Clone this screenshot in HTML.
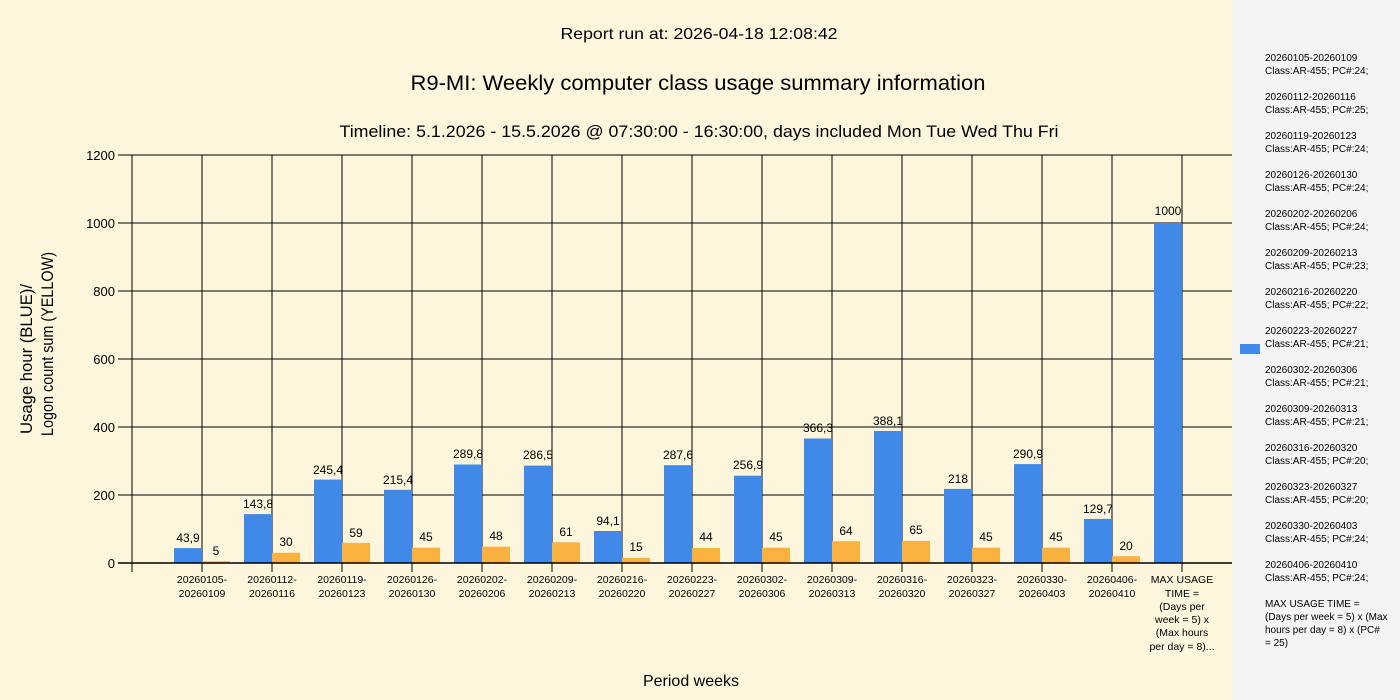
<!DOCTYPE html>
<html><head><meta charset="utf-8"><style>
body{margin:0;background:#fdf6dd;}
svg{display:block;font-family:"Liberation Sans",sans-serif;}
</style></head><body>
<svg width="1400" height="700" xmlns="http://www.w3.org/2000/svg">
<rect width="1400" height="700" fill="#fdf6dd"/>
<rect x="1232" y="0" width="168" height="700" fill="#f4f4f4"/>
<g fill="#000" text-anchor="middle">
<text x="699" y="39" font-size="16" textLength="277" lengthAdjust="spacingAndGlyphs">Report run at: 2026-04-18 12:08:42</text>
<text x="698" y="90" font-size="21" textLength="575" lengthAdjust="spacingAndGlyphs">R9-MI: Weekly computer class usage summary information</text>
<text x="699" y="137" font-size="17" textLength="719" lengthAdjust="spacingAndGlyphs">Timeline:  5.1.2026  - 15.5.2026  @  07:30:00 -  16:30:00, days included Mon Tue Wed Thu Fri</text>
<text x="691" y="686" font-size="16">Period weeks</text>
</g>
<g fill="#000" text-anchor="start">
<text transform="translate(32,434) rotate(-90)" font-size="17" textLength="150" lengthAdjust="spacingAndGlyphs">Usage hour (BLUE)/</text>
<text transform="translate(53,436) rotate(-90)" font-size="17" textLength="184" lengthAdjust="spacingAndGlyphs">Logon count sum (YELLOW)</text>
</g>
<g stroke="#000" stroke-width="1">
<line x1="118" y1="155" x2="1232" y2="155"/><line x1="118" y1="223" x2="1232" y2="223"/>
<line x1="118" y1="291" x2="1232" y2="291"/><line x1="118" y1="359" x2="1232" y2="359"/>
<line x1="118" y1="427" x2="1232" y2="427"/><line x1="118" y1="495" x2="1232" y2="495"/>
<line x1="132" y1="155" x2="132" y2="572"/>
<line x1="202" y1="155" x2="202" y2="572"/><line x1="272" y1="155" x2="272" y2="572"/>
<line x1="342" y1="155" x2="342" y2="572"/><line x1="412" y1="155" x2="412" y2="572"/>
<line x1="482" y1="155" x2="482" y2="572"/><line x1="552" y1="155" x2="552" y2="572"/>
<line x1="622" y1="155" x2="622" y2="572"/><line x1="692" y1="155" x2="692" y2="572"/>
<line x1="762" y1="155" x2="762" y2="572"/><line x1="832" y1="155" x2="832" y2="572"/>
<line x1="902" y1="155" x2="902" y2="572"/><line x1="972" y1="155" x2="972" y2="572"/>
<line x1="1042" y1="155" x2="1042" y2="572"/><line x1="1112" y1="155" x2="1112" y2="572"/>
<line x1="1182" y1="155" x2="1182" y2="572"/>
</g>
<g font-size="13" text-anchor="end" fill="#000">
<text x="115" y="160">1200</text><text x="115" y="228">1000</text><text x="115" y="296">800</text>
<text x="115" y="364">600</text><text x="115" y="432">400</text><text x="115" y="500">200</text><text x="115" y="568">0</text>
</g>
<g fill="#4189e8">
<rect x="174" y="548.1" width="28" height="14.9"/><rect x="244" y="514.1" width="28" height="48.9"/>
<rect x="314" y="479.6" width="28" height="83.4"/><rect x="384" y="489.8" width="28" height="73.2"/>
<rect x="454" y="464.5" width="28" height="98.5"/><rect x="524" y="465.6" width="28" height="97.4"/>
<rect x="594" y="531" width="28" height="32"/><rect x="664" y="465.2" width="28" height="97.8"/>
<rect x="734" y="475.7" width="28" height="87.3"/><rect x="804" y="438.5" width="28" height="124.5"/>
<rect x="874" y="431" width="28" height="132"/><rect x="944" y="488.9" width="28" height="74.1"/>
<rect x="1014" y="464.1" width="28" height="98.9"/><rect x="1084" y="518.9" width="28" height="44.1"/>
<rect x="1154" y="223" width="28" height="340"/>
</g>
<g fill="#f9b13f">
<rect x="202" y="561.3" width="28" height="1.7"/><rect x="272" y="552.8" width="28" height="10.2"/>
<rect x="342" y="542.9" width="28" height="20.1"/><rect x="412" y="547.7" width="28" height="15.3"/>
<rect x="482" y="546.7" width="28" height="16.3"/><rect x="552" y="542.3" width="28" height="20.7"/>
<rect x="622" y="557.9" width="28" height="5.1"/><rect x="692" y="548" width="28" height="15"/>
<rect x="762" y="547.7" width="28" height="15.3"/><rect x="832" y="541.2" width="28" height="21.8"/>
<rect x="902" y="540.9" width="28" height="22.1"/><rect x="972" y="547.7" width="28" height="15.3"/>
<rect x="1042" y="547.7" width="28" height="15.3"/><rect x="1112" y="556.2" width="28" height="6.8"/>
</g>
<line x1="118" y1="563" x2="1232" y2="563" stroke="#000" stroke-width="1.5"/>
<g font-size="12" text-anchor="middle" fill="#000">
<text x="188" y="542">43,9</text><text x="258" y="508">143,8</text><text x="328" y="474">245,4</text>
<text x="398" y="484">215,4</text><text x="468" y="458">289,8</text><text x="538" y="459">286,5</text>
<text x="608" y="525">94,1</text><text x="678" y="459">287,6</text><text x="748" y="469">256,9</text>
<text x="818" y="432">366,3</text><text x="888" y="425">388,1</text><text x="958" y="483">218</text>
<text x="1028" y="458">290,9</text><text x="1098" y="513">129,7</text><text x="1168" y="215">1000</text>
<text x="216" y="555">5</text><text x="286" y="546">30</text><text x="356" y="537">59</text>
<text x="426" y="541">45</text><text x="496" y="540">48</text><text x="566" y="536">61</text>
<text x="636" y="551">15</text><text x="706" y="541">44</text><text x="776" y="541">45</text>
<text x="846" y="535">64</text><text x="916" y="534">65</text><text x="986" y="541">45</text>
<text x="1056" y="541">45</text><text x="1126" y="550">20</text>
</g>
<g font-size="10.5" text-anchor="middle" fill="#000">
<text x="202" y="583">20260105-</text><text x="202" y="597">20260109</text>
<text x="272" y="583">20260112-</text><text x="272" y="597">20260116</text>
<text x="342" y="583">20260119-</text><text x="342" y="597">20260123</text>
<text x="412" y="583">20260126-</text><text x="412" y="597">20260130</text>
<text x="482" y="583">20260202-</text><text x="482" y="597">20260206</text>
<text x="552" y="583">20260209-</text><text x="552" y="597">20260213</text>
<text x="622" y="583">20260216-</text><text x="622" y="597">20260220</text>
<text x="692" y="583">20260223-</text><text x="692" y="597">20260227</text>
<text x="762" y="583">20260302-</text><text x="762" y="597">20260306</text>
<text x="832" y="583">20260309-</text><text x="832" y="597">20260313</text>
<text x="902" y="583">20260316-</text><text x="902" y="597">20260320</text>
<text x="972" y="583">20260323-</text><text x="972" y="597">20260327</text>
<text x="1042" y="583">20260330-</text><text x="1042" y="597">20260403</text>
<text x="1112" y="583">20260406-</text><text x="1112" y="597">20260410</text>
<text x="1182" y="583">MAX USAGE</text><text x="1182" y="597">TIME =</text>
<text x="1182" y="610">(Days per</text><text x="1182" y="623">week = 5) x</text>
<text x="1182" y="636">(Max hours</text><text x="1182" y="650">per day = 8)...</text>
</g>
<rect x="1240" y="344" width="20" height="10" fill="#4189e8"/>
<g font-size="10" fill="#000">
<text x="1265" y="61">20260105-20260109</text><text x="1265" y="74">Class:AR-455; PC#:24;</text>
<text x="1265" y="100">20260112-20260116</text><text x="1265" y="113">Class:AR-455; PC#:25;</text>
<text x="1265" y="139">20260119-20260123</text><text x="1265" y="152">Class:AR-455; PC#:24;</text>
<text x="1265" y="178">20260126-20260130</text><text x="1265" y="191">Class:AR-455; PC#:24;</text>
<text x="1265" y="217">20260202-20260206</text><text x="1265" y="230">Class:AR-455; PC#:24;</text>
<text x="1265" y="256">20260209-20260213</text><text x="1265" y="269">Class:AR-455; PC#:23;</text>
<text x="1265" y="295">20260216-20260220</text><text x="1265" y="308">Class:AR-455; PC#:22;</text>
<text x="1265" y="334">20260223-20260227</text><text x="1265" y="347">Class:AR-455; PC#:21;</text>
<text x="1265" y="373">20260302-20260306</text><text x="1265" y="386">Class:AR-455; PC#:21;</text>
<text x="1265" y="412">20260309-20260313</text><text x="1265" y="425">Class:AR-455; PC#:21;</text>
<text x="1265" y="451">20260316-20260320</text><text x="1265" y="464">Class:AR-455; PC#:20;</text>
<text x="1265" y="490">20260323-20260327</text><text x="1265" y="503">Class:AR-455; PC#:20;</text>
<text x="1265" y="529">20260330-20260403</text><text x="1265" y="542">Class:AR-455; PC#:24;</text>
<text x="1265" y="568">20260406-20260410</text><text x="1265" y="581">Class:AR-455; PC#:24;</text>
<text x="1265" y="607">MAX USAGE TIME =</text><text x="1265" y="620"> (Days per week = 5) x (Max</text>
<text x="1265" y="633">hours per day = 8) x (PC#</text><text x="1265" y="646">= 25)</text>
</g>
</svg>
</body></html>
